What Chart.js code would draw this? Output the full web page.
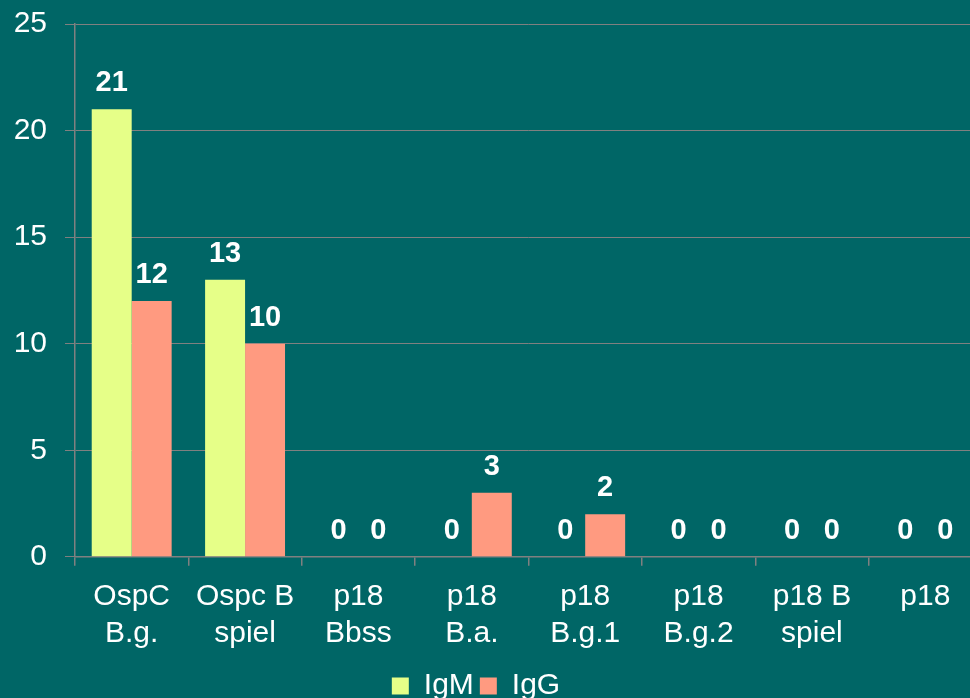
<!DOCTYPE html>
<html>
<head>
<meta charset="utf-8">
<script src="https://cdn.jsdelivr.net/npm/chart.js@4.4.1/dist/chart.umd.min.js"></script>
<style>
  html, body { margin: 0; padding: 0; background: #006666; overflow: hidden; }
  #wrap { position: absolute; left: 0; top: -12px; width: 982px; height: 723px; }
</style>
</head>
<body>
<div id="wrap"><canvas id="chart"></canvas></div>
<script>
// Values
const categories = [
  ["OspC", "B.g."], ["Ospc B", "spiel"], ["p18", "Bbss"], ["p18", "B.a."],
  ["p18", "B.g.1"], ["p18", "B.g.2"], ["p18 B", "spiel"], ["p18"]
];
const igmValues = [21, 13, 0, 0, 0, 0, 0, 0];
const iggValues = [12, 10, 0, 3, 2, 0, 0, 0];
const yTicks = [0, 5, 10, 15, 20, 25];

const FONT = "'Liberation Sans', Arial, sans-serif";
const GRID = "#808080";

// bold white numbers above every bar, zeros included
const valueLabels = {
  id: "valueLabels",
  afterDatasetsDraw(chart) {
    const ctx = chart.ctx;
    ctx.save();
    ctx.fillStyle = "#ffffff";
    ctx.font = "bold 29px " + FONT;
    ctx.textAlign = "center";
    ctx.textBaseline = "alphabetic";
    chart.data.datasets.forEach((ds, i) => {
      chart.getDatasetMeta(i).data.forEach((bar, j) => {
        ctx.fillText(String(ds.data[j]), bar.x, bar.y - 18);
      });
    });
    ctx.restore();
  }
};

// the legend in the picture sits a little left of the canvas centre
const legendShift = {
  id: "legendShift",
  afterLayout(chart) {
    if (chart.legend) {
      chart.legend.left -= 15;
      chart.legend.right -= 15;
    }
  }
};

new Chart(document.getElementById("chart"), {
  type: "bar",
  data: {
    labels: categories,
    datasets: [
      { label: "IgM", data: igmValues, backgroundColor: "#e6ff88", categoryPercentage: 0.705, barPercentage: 1 },
      { label: "IgG", data: iggValues, backgroundColor: "#ff9a80", categoryPercentage: 0.705, barPercentage: 1 }
    ]
  },
  options: {
    responsive: true,
    maintainAspectRatio: false,
    animation: false,
    layout: { padding: { left: 0, right: 0, top: 10, bottom: 0 } },
    plugins: {
      tooltip: { enabled: false },
      legend: {
        position: "bottom",
        labels: {
          color: "#ffffff",
          font: { family: FONT, size: 30 },
          boxWidth: 17,
          boxHeight: 17,
          padding: 6
        }
      }
    },
    scales: {
      y: {
        min: 0,
        max: 25,
        afterBuildTicks: (scale) => { scale.ticks = yTicks.map((v) => ({ value: v })); },
        afterFit: (scale) => { scale.width = 75; },
        ticks: { color: "#ffffff", font: { family: FONT, size: 30 }, padding: 18 },
        grid: { color: GRID, lineWidth: 1, tickLength: 10 },
        border: { color: GRID, width: 1.5 }
      },
      x: {
        ticks: { color: "#ffffff", font: { family: FONT, size: 30, lineHeight: 1.22 }, padding: 13, maxRotation: 0, autoSkip: false },
        grid: { offset: true, drawOnChartArea: false, color: GRID, lineWidth: 1.5, tickLength: 9 },
        border: { color: GRID, width: 1.5 }
      }
    }
  },
  plugins: [valueLabels, legendShift]
});
</script>
</body>
</html>
